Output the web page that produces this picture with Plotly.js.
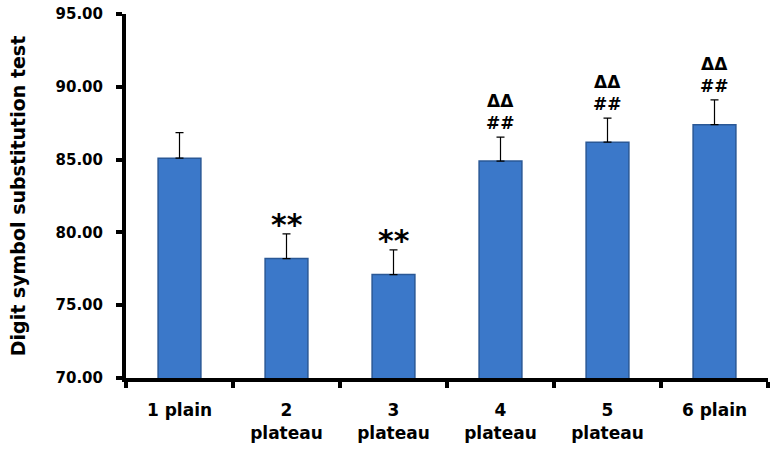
<!DOCTYPE html>
<html>
<head>
<meta charset="utf-8">
<script src="https://cdn.plot.ly/plotly-3.0.1.min.js"></script>
<style>
  html, body { margin: 0; padding: 0; background: #fff; }
  #chart { width: 773px; height: 458px; }
</style>
</head>
<body>
<div id="chart"></div>
<script>
var groups = ['1 plain', '2<br>plateau', '3<br>plateau', '4<br>plateau', '5<br>plateau', '6 plain'];
var means = [85.1, 78.2, 77.1, 84.9, 86.2, 87.4];
var errs = [1.75, 1.7, 1.7, 1.65, 1.65, 1.7];
var marks = ['', '**', '**', 'ΔΔ<br>##', 'ΔΔ<br>##', 'ΔΔ<br>##'];

var fnt = 'DejaVu Sans, Arial';

var trace = {
  x: groups,
  y: means,
  type: 'bar',
  width: 0.4,
  marker: {
    color: '#3b78c9',
    line: { color: '#2a5896', width: 1.5 }
  },
  error_y: {
    type: 'data',
    symmetric: false,
    array: errs,
    arrayminus: [0, 0, 0, 0, 0, 0],
    color: '#000',
    thickness: 1.2,
    width: 4
  },
  hoverinfo: 'none'
};

// significance marks sit on top of the error bars
var notes = [];
for (var i = 0; i < groups.length; i++) {
  if (!marks[i]) continue;
  var stars = marks[i] === '**';
  notes.push({
    x: groups[i],
    y: means[i] + errs[i],
    xref: 'x', yref: 'y',
    text: marks[i],
    showarrow: false,
    yanchor: 'bottom',
    yshift: stars ? -10 : 2,
    font: { family: fnt, size: stars ? 30 : 17, color: '#000', weight: 'bold' }
  });
}

var layout = {
  width: 773,
  height: 458,
  margin: { l: 126, r: 5, t: 14, b: 80 },
  paper_bgcolor: '#fff',
  plot_bgcolor: '#fff',
  showlegend: false,
  font: { family: fnt, color: '#000' },
  xaxis: {
    type: 'category',
    showline: true,
    linecolor: '#000',
    linewidth: 4,
    ticks: 'outside',
    tickson: 'boundaries',
    ticklen: 6,
    tickwidth: 4,
    tickcolor: '#000',
    showgrid: false,
    tickfont: { size: 17, weight: 'bold' },
    ticklabelstandoff: 14
  },
  yaxis: {
    range: [70, 95],
    dtick: 5,
    tickformat: '.2f',
    showline: true,
    linecolor: '#000',
    linewidth: 4,
    ticks: 'outside',
    ticklen: 6,
    tickwidth: 4,
    tickcolor: '#000',
    showgrid: false,
    zeroline: false,
    tickfont: { size: 15, weight: 'bold' },
    ticklabelstandoff: 10,
    title: { text: 'Digit symbol substitution test', font: { size: 19, weight: 'bold' }, standoff: 26 }
  },
  annotations: notes
};

Plotly.newPlot('chart', [trace], layout, { displayModeBar: false, staticPlot: true });
</script>
</body>
</html>
